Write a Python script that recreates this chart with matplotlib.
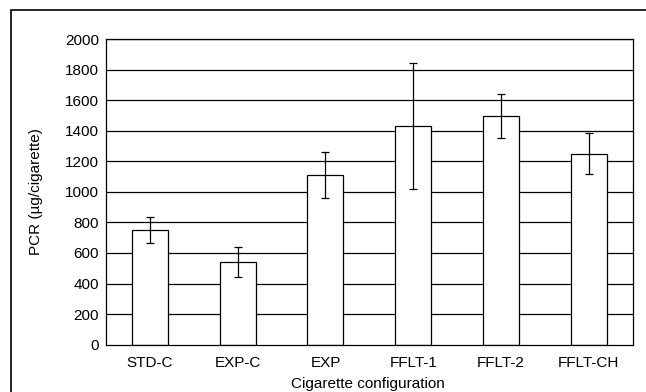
import matplotlib.pyplot as plt
from matplotlib.patches import Rectangle

# data
configs = ["STD-C", "EXP-C", "EXP", "FFLT-1", "FFLT-2", "FFLT-CH"]
pcr = [750, 540, 1110, 1430, 1495, 1250]
pcr_err = [85, 100, 150, 410, 145, 135]
y_ticks = list(range(0, 2001, 200))

plt.rcParams['font.family'] = ['Liberation Sans', 'DejaVu Sans']

fig = plt.figure(figsize=(6.46, 3.92), dpi=100)
ax = fig.add_axes([0.1641, 0.1207, 0.8153, 0.7798])

# horizontal grid lines behind the bars
for y in y_ticks[1:]:
    ax.axhline(y, color='black', lw=0.9, zorder=1)

x = range(len(configs))
ax.bar(x, pcr, width=0.41, color='white', edgecolor='black', linewidth=0.9, zorder=2)
ax.errorbar(x, pcr, yerr=pcr_err, fmt='none', ecolor='black', elinewidth=0.9,
            capsize=2.7, capthick=0.9, zorder=3)

ax.set_xlim(-0.5, len(configs) - 0.5)
ax.set_ylim(0, 2000)
ax.set_yticks(y_ticks)
ax.set_xticks(list(x))
ax.set_xticklabels(configs)
ax.tick_params(length=0, labelsize=11, pad=5)
ax.tick_params(axis='x', pad=8)
for s in ax.spines.values():
    s.set_linewidth(0.9)

ax.set_ylabel("PCR (\u00b5g/cigarette)", fontsize=11, labelpad=16)
fig.text(0.5698, 4 / 392, "Cigarette configuration", ha='center', va='baseline', fontsize=11)

# outer frame around the figure
fig.patches.append(Rectangle((11 / 646, -0.2), 1.0, 1.2 - 10 / 392, transform=fig.transFigure,
                             fill=False, edgecolor='black', lw=1.2, clip_on=False))

fig.savefig("out.png", dpi=100)
